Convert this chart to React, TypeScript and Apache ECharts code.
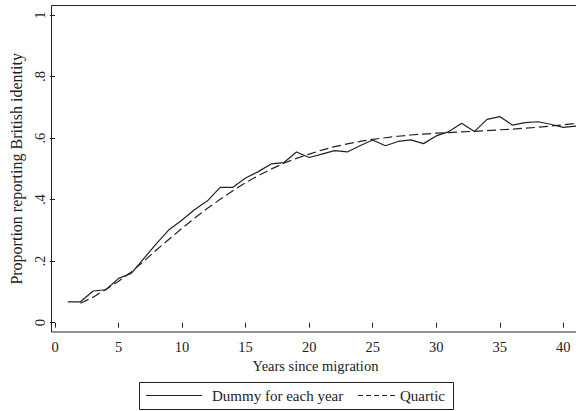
import React, { useEffect, useRef } from "react";
import * as echarts from "echarts";

const years: number[] = Array.from({ length: 41 }, (_, i) => i + 1);
const dummyValues: number[] = [
  0.068, 0.068, 0.103, 0.107, 0.144, 0.16, 0.209, 0.258, 0.303, 0.334,
  0.368, 0.396, 0.44, 0.44, 0.47, 0.491, 0.516, 0.52, 0.555, 0.537,
  0.548, 0.559, 0.555, 0.575, 0.594, 0.575, 0.589, 0.594, 0.582, 0.607,
  0.621, 0.648, 0.621, 0.661, 0.67, 0.642, 0.65, 0.653, 0.645, 0.635,
  0.639,
];
const quarticYears: number[] = Array.from({ length: 40 }, (_, i) => i + 2);
const quarticValues: number[] = [
  0.063, 0.083, 0.108, 0.135, 0.165, 0.2, 0.237, 0.272, 0.307, 0.34,
  0.372, 0.401, 0.429, 0.455, 0.478, 0.499, 0.518, 0.534, 0.548, 0.561,
  0.572, 0.581, 0.589, 0.596, 0.601, 0.606, 0.61, 0.613, 0.616, 0.618,
  0.62, 0.622, 0.624, 0.627, 0.629, 0.632, 0.635, 0.639, 0.643, 0.648,
];
const seriesNames: string[] = ["Dummy for each year", "Quartic"];
const xTitle = "Years since migration";
const yTitle = "Proportion reporting British identity";

const FONT = "'Liberation Serif', 'Times New Roman', serif";
const INK = "#222";

export default function App() {
  const ref = useRef<HTMLDivElement>(null);
  useEffect(() => {
    if (!ref.current) return;
    const chart = echarts.init(ref.current, undefined, { renderer: "svg" });
    chart.setOption({
      animation: false,
      backgroundColor: "#fff",
      grid: { left: 51.3, right: 0, top: 15, bottom: 88.3 },
      xAxis: {
        type: "value",
        min: 0,
        max: 41,
        interval: 5,
        offset: 9.3,
        name: xTitle,
        nameLocation: "middle",
        nameGap: 24,
        nameTextStyle: { fontFamily: FONT, fontSize: 14.5, color: INK },
        axisLine: { show: false },
        axisTick: { show: true, length: 5, lineStyle: { color: INK } },
        axisLabel: {
          fontFamily: FONT,
          fontSize: 14.5,
          color: INK,
          margin: 7,
          showMaxLabel: false,
          alignMinLabel: "center",
          formatter: (v: number) => (v % 5 === 0 ? String(v) : ""),
        },
        splitLine: { show: false },
      },
      yAxis: {
        type: "value",
        min: 0,
        max: 1,
        interval: 0.2,
        name: yTitle,
        nameLocation: "middle",
        nameRotate: 90,
        nameGap: 31,
        nameTextStyle: { fontFamily: FONT, fontSize: 16, color: INK },
        axisLine: { show: false },
        axisTick: { show: true, length: 5, lineStyle: { color: INK } },
        axisLabel: {
          fontFamily: FONT,
          fontSize: 14.5,
          color: INK,
          rotate: 90,
          margin: 8,
          formatter: (v: number) => {
            const r = Math.round(v * 10) / 10;
            if (r === 0) return "0";
            if (r === 1) return "1";
            return String(r).replace(/^0/, "");
          },
        },
        splitLine: { show: false },
      },
      series: [
        {
          name: seriesNames[0],
          type: "line",
          data: years.map((y, i) => [y, dummyValues[i]]),
          showSymbol: false,
          symbol: "none",
          lineStyle: { color: INK, width: 1.2 },
        },
        {
          name: seriesNames[1],
          type: "line",
          data: quarticYears.map((y, i) => [y, quarticValues[i]]),
          showSymbol: false,
          symbol: "none",
          smooth: false,
          lineStyle: { color: INK, width: 1.2, type: [9, 4] },
        },
      ],
      graphic: [
        {
          type: "rect",
          shape: { x: 51.5, y: 5.5, width: 540, height: 326.5 },
          style: { fill: "none", stroke: INK, lineWidth: 1 },
          silent: true,
        },
        {
          type: "rect",
          shape: { x: 139.5, y: 382.5, width: 314, height: 27 },
          style: { fill: "none", stroke: INK, lineWidth: 1 },
          silent: true,
        },
        {
          type: "line",
          shape: { x1: 146, y1: 395.5, x2: 202, y2: 395.5 },
          style: { stroke: INK, lineWidth: 1.2 },
        },
        {
          type: "text",
          x: 212,
          y: 396,
          style: {
            text: seriesNames[0],
            font: `15px ${FONT}`,
            fill: INK,
            verticalAlign: "middle",
          },
        },
        {
          type: "line",
          shape: { x1: 358, y1: 395.5, x2: 395, y2: 395.5 },
          style: { stroke: INK, lineWidth: 1.2, lineDash: [5, 3] },
        },
        {
          type: "text",
          x: 400,
          y: 396,
          style: {
            text: seriesNames[1],
            font: `15px ${FONT}`,
            fill: INK,
            verticalAlign: "middle",
          },
        },
      ],
    });
    return () => chart.dispose();
  }, []);
  return <div ref={ref} style={{ width: 576, height: 411, position: "absolute", left: 0, top: 0 }} />;
}
